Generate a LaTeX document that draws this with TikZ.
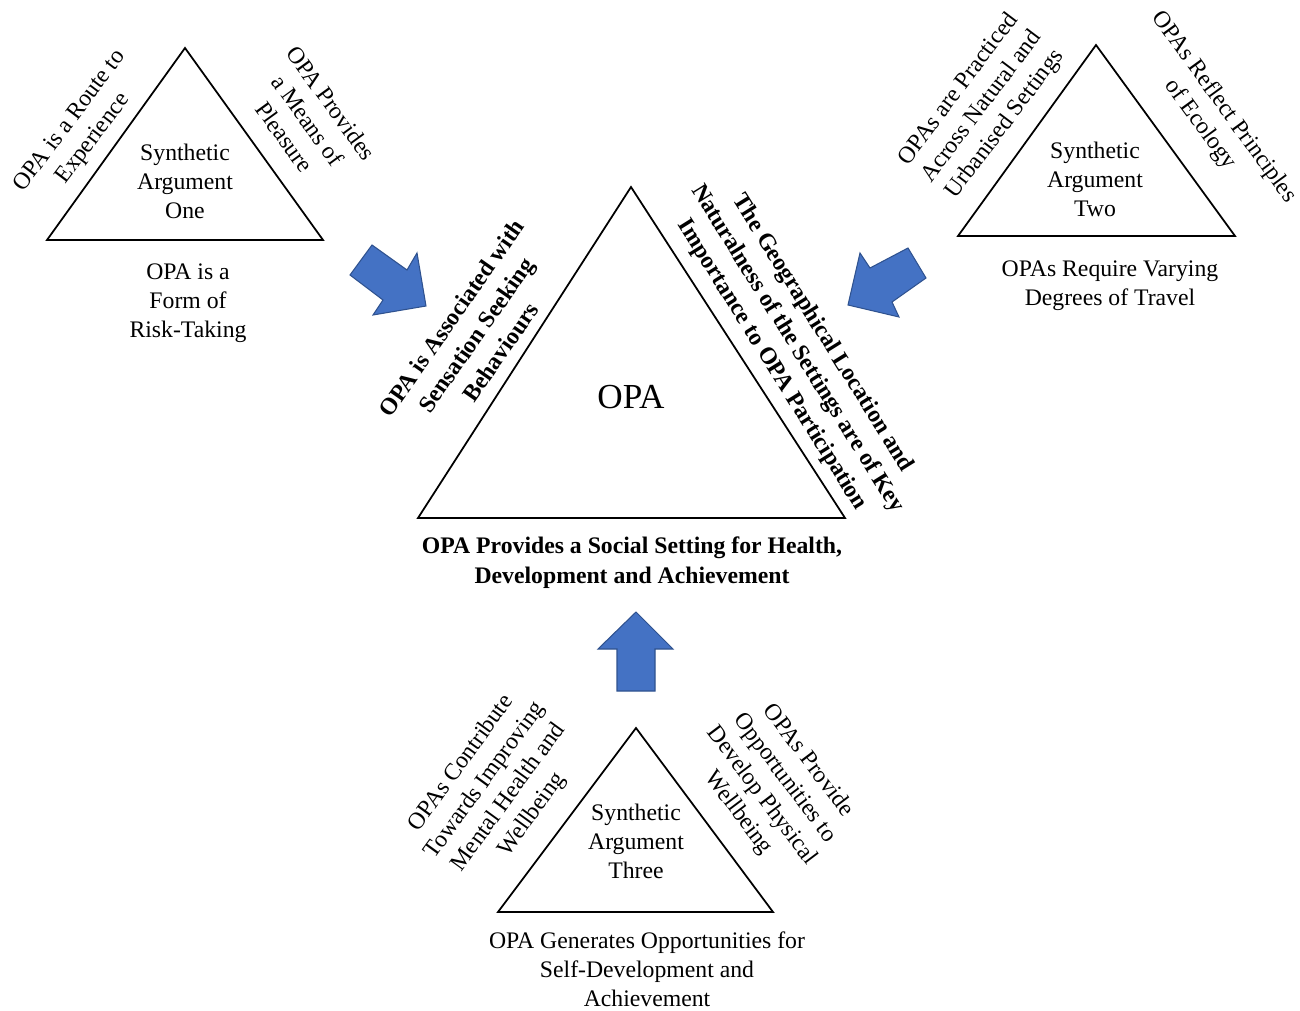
\documentclass[tikz,border=0pt]{standalone}
\usepackage{fontspec}
\setmainfont{Liberation Serif}
\usepackage{tikz}
\definecolor{arrowblue}{HTML}{4472C4}
\definecolor{arrowline}{HTML}{2F528F}
\tikzset{tri/.style={draw,line width=1pt},
  arg text/.style={align=center,inner sep=0pt,font=\fontsize{13.5}{16.5}\selectfont},
  key text/.style={align=center,inner sep=0pt,font=\fontsize{13.5}{17}\selectfont\bfseries},
  block arrow/.style={fill=arrowblue,draw=arrowline,line width=0.6pt}}

\begin{document}
\begin{tikzpicture}[x=0.02cm,y=-0.02cm]
            \useasboundingbox (0,0) rectangle (1300,1010);
            % the four triangles
            \foreach \t/\ax/\ay/\lx/\rx/\by in {one/185/48/47/323/240,two/1096/45/958/1235/236,three/636/728/498/773/912,opa/631/187/418/845/518}{
                \coordinate (\t top) at (\ax,\ay);
                \coordinate (\t bl) at (\lx,\by);
                \coordinate (\t br) at (\rx,\by);
                \draw[tri] (\t top) -- (\t bl) -- (\t br) -- cycle;
            }

            % synthetic argument one
            \node[arg text] (one inner) at (185,181) {Synthetic\\Argument\\One};
            \node[arg text] (one base) at (188,303) {OPA is a\\Form of\\Risk-Taking};
            \node[arg text,rotate=53] (one west) at (82,130) {OPA is a Route to\\Experience};
            \node[arg text,rotate=-54] (one east) at (308,120) {OPA Provides\\a Means of\\Pleasure};

            % synthetic argument two
            \node[arg text] (two inner) at (1095,179) {Synthetic\\Argument\\Two};
            \node[arg text] (two base) at (1110,286) {OPAs Require Varying\\Degrees of Travel};
            \node[arg text,rotate=53] (two west) at (982,107) {OPAs are Practiced\\Across Natural and\\Urbanised Settings};
            \node[arg text,rotate=-54] (two east) at (1212,116) {OPAs Reflect Principles\\of Ecology};

            % synthetic argument three
            \node[arg text] (three inner) at (636,841) {Synthetic\\Argument\\Three};
            \node[arg text] (three base) at (647,969) {OPA Generates Opportunities for\\Self-Development and\\Achievement};
            \node[arg text,rotate=54] (three west) at (497,789) {OPAs Contribute\\Towards Improving\\Mental Health and\\Wellbeing};
            \node[arg text,rotate=-53] (three east) at (773,787) {OPAs Provide\\Opportunities to\\Develop Physical\\Wellbeing};

            % OPA
            \node[font=\fontsize{20}{24}\selectfont] (opa inner) at (631,397) {OPA};
            \node[key text] (opa base) at (632,563) {OPA Provides a Social Setting for Health,\\Development and Achievement};
            \node[key text,rotate=55] (opa west) at (476,335) {OPA is Associated with\\Sensation Seeking\\Behaviours};
            \node[key text,rotate=-58] (opa east) at (797,349) {The Geographical Location and\\Naturalness of the Settings are of Key\\Importance to OPA Participation};

            % block arrows
            \draw[block arrow] (372,245) -- (407,270) -- (417,253) -- (426,306) -- (373,315) -- (383,300) -- (350,275) -- cycle;
            \draw[block arrow] (908,248) -- (926,278) -- (892,302) -- (899,317) -- (848,305) -- (860,253) -- (870,268) -- cycle;
            \draw[block arrow] (636,612) -- (673,649) -- (655,649) -- (655,691) -- (617,691) -- (617,649) -- (598,649) -- cycle;
\end{tikzpicture}
\end{document}
